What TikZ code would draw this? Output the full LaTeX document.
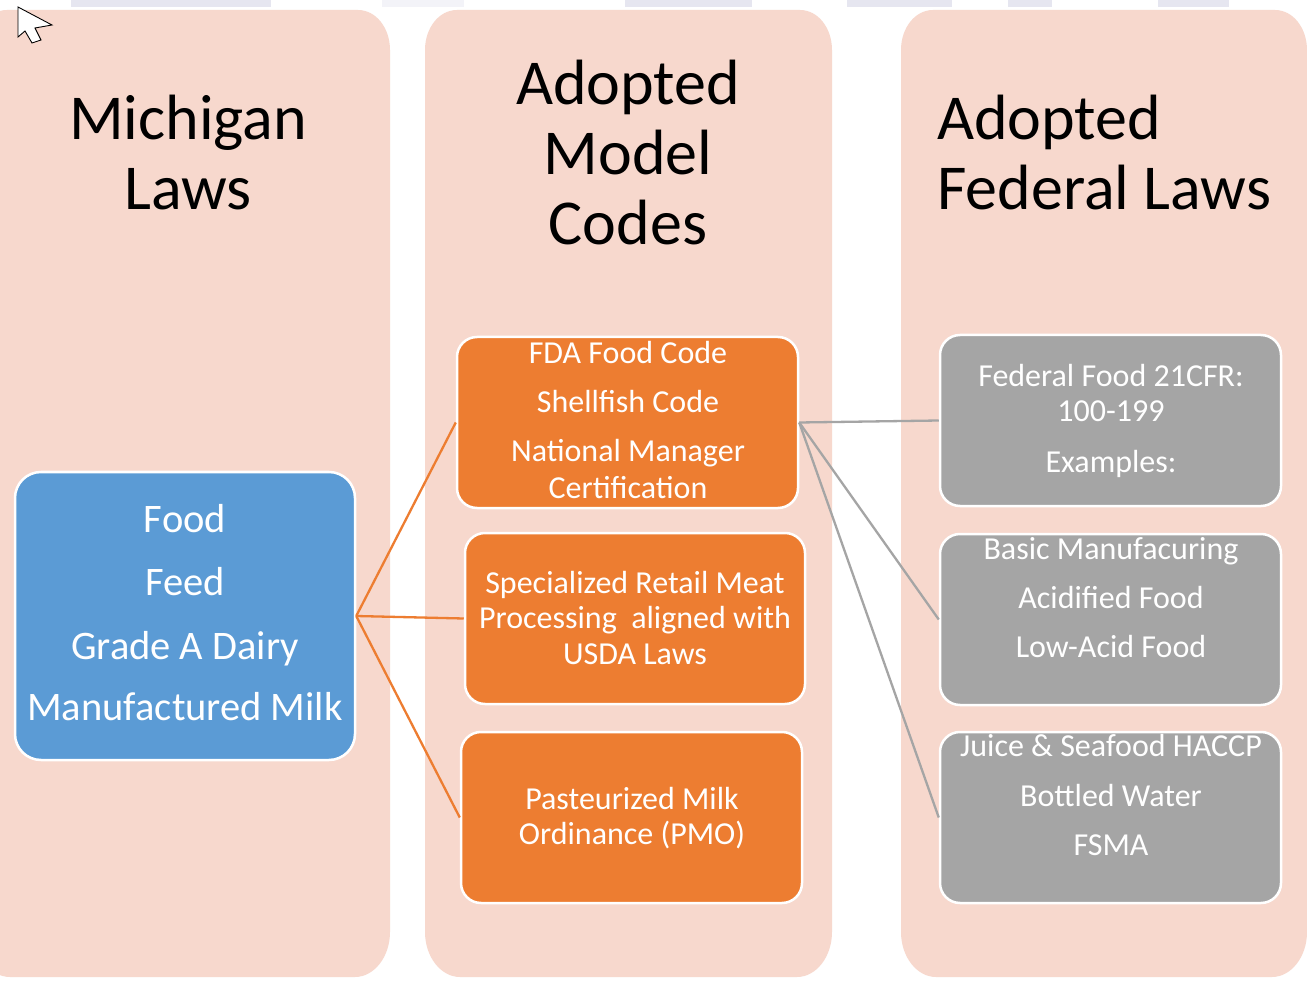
\documentclass[tikz,border=0pt]{standalone}
\usepackage{fontspec}
\setmainfont{Carlito}
\definecolor{panelc}{HTML}{F7D8CD}
\definecolor{bluec}{HTML}{5B9BD5}
\definecolor{orangec}{HTML}{ED7D31}
\definecolor{grayc}{HTML}{A5A5A5}
\definecolor{stripec}{HTML}{E6E6F0}
\newcommand\mypanel[4]{%
  \fill[panelc] (#1,#2+40) .. controls (#1,#2+18) and (#1+14,#2) .. (#1+32,#2)
    -- (#3-32,#2) .. controls (#3-14,#2) and (#3,#2+18) .. (#3,#2+40)
    -- (#3,#4-45) .. controls (#3,#4-20) and (#3-16,#4) .. (#3-35,#4)
    -- (#1+35,#4) .. controls (#1+16,#4) and (#1,#4-20) .. (#1,#4-45) -- cycle;}
\begin{document}
\begin{tikzpicture}[x=1pt,y=-1pt,
  title/.style={font=\fontsize{64}{70}\selectfont, text=black, inner sep=0pt},
  boxbase/.style={draw=white, line width=2.5pt, rectangle, rounded corners=20pt, minimum width=341pt, minimum height=171pt, inner sep=0pt},
  bluebox/.style={boxbase, fill=bluec, rounded corners=26pt, minimum width=340pt, minimum height=288pt},
  orangebox/.style={boxbase, fill=orangec},
  graybox/.style={boxbase, fill=grayc},
  bigtext/.style={font=\fontsize{40.5}{44}\selectfont, text=white, inner sep=0pt, anchor=base},
  boxtext/.style={font=\fontsize{32}{36}\selectfont, text=white, inner sep=0pt, anchor=base},
  olink/.style={draw=orangec, line width=2.3pt},
  glink/.style={draw=grayc, line width=2.3pt}]
\useasboundingbox (0,0) rectangle (1307,981);
\fill[white] (0,0) rectangle (1307,981);
% faint stripes at the top
\fill[stripec] (71,0) rectangle (271,7);
\fill[stripec!50] (382,0) rectangle (464,7);
\fill[stripec] (625,0) rectangle (752,7);
\fill[stripec] (847,0) rectangle (952,7);
\fill[stripec] (1008,0) rectangle (1052,7);
\fill[stripec] (1158,0) rectangle (1229,7);
% panels
\mypanel{-25}{10}{390}{977}
\mypanel{425}{10}{832}{977}
\mypanel{901}{10}{1307}{977}
% titles
\node[title, anchor=base] (t1a) at (188,140) {Michigan};
\node[title, anchor=base] (t1b) at (188,210) {Laws};
\node[title, anchor=base] (t2a) at (628,105) {Adopted};
\node[title, anchor=base] (t2b) at (628,175) {Model};
\node[title, anchor=base] (t2c) at (628,245) {Codes};
\node[title, anchor=base west] (t3a) at (937,140) {Adopted};
\node[title, anchor=base west] (t3b) at (937,210) {Federal Laws};
% boxes
\node[bluebox] (food) at (185,616) {};
\node[orangebox] (o1) at (627.5,422.5) {};
\node[orangebox, minimum width=340pt] (o2) at (635,618.5) {};
\node[orangebox] (o3) at (631.5,817.5) {};
\node[graybox] (g1) at (1110.5,420.5) {};
\node[graybox] (g2) at (1110.5,619.5) {};
\node[graybox] (g3) at (1110.5,817.5) {};
% connectors
\draw[olink] (food.east) -- (o1.west);
\draw[olink] (food.east) -- (o2.west);
\draw[olink] (food.east) -- (o3.west);
\draw[glink] (o1.east) -- (g1.west);
\draw[glink] (o1.east) -- (g2.west);
\draw[glink] (o1.east) -- (g3.west);
% blue box text
\node[bigtext] (fa) at (185,532) {Food};
\node[bigtext] (fb) at (185,595) {Feed};
\node[bigtext] (fc) at (185,659) {Grade A Dairy};
\node[bigtext] (fd) at (185,720) {Manufactured Milk};
% orange texts
\node[boxtext] (o1a) at (628,364) {FDA Food Code};
\node[boxtext] (o1b) at (628,413) {Shellfish Code};
\node[boxtext] (o1c) at (628,462) {National Manager};
\node[boxtext] (o1d) at (628,498) {Certification};
\node[boxtext] (o2a) at (635,593) {Specialized Retail Meat};
\node[boxtext] (o2b) at (635,628) {Processing\ \ aligned with};
\node[boxtext] (o2c) at (635,664) {USDA Laws};
\node[boxtext] (o3a) at (632,809) {Pasteurized Milk};
\node[boxtext] (o3b) at (632,844) {Ordinance (PMO)};
% gray texts
\node[boxtext] (g1a) at (1111,387) {Federal Food 21CFR:};
\node[boxtext] (g1b) at (1111,422) {100-199};
\node[boxtext] (g1c) at (1111,472) {Examples:};
\node[boxtext] (g2a) at (1111,559) {Basic Manufacuring};
\node[boxtext] (g2b) at (1111,608) {Acidified Food};
\node[boxtext] (g2c) at (1111,657) {Low-Acid Food};
\node[boxtext] (g3a) at (1111,756) {Juice \& Seafood HACCP};
\node[boxtext] (g3b) at (1111,806) {Bottled Water};
\node[boxtext] (g3c) at (1111,855) {FSMA};
% mouse cursor
\draw[fill=white, draw=black, line width=0.9pt, line join=miter]
  (18,7) -- (18,37) -- (25,31) -- (32,43) -- (41,40) -- (35,28) -- (52,25) -- cycle;
\end{tikzpicture}
\end{document}
